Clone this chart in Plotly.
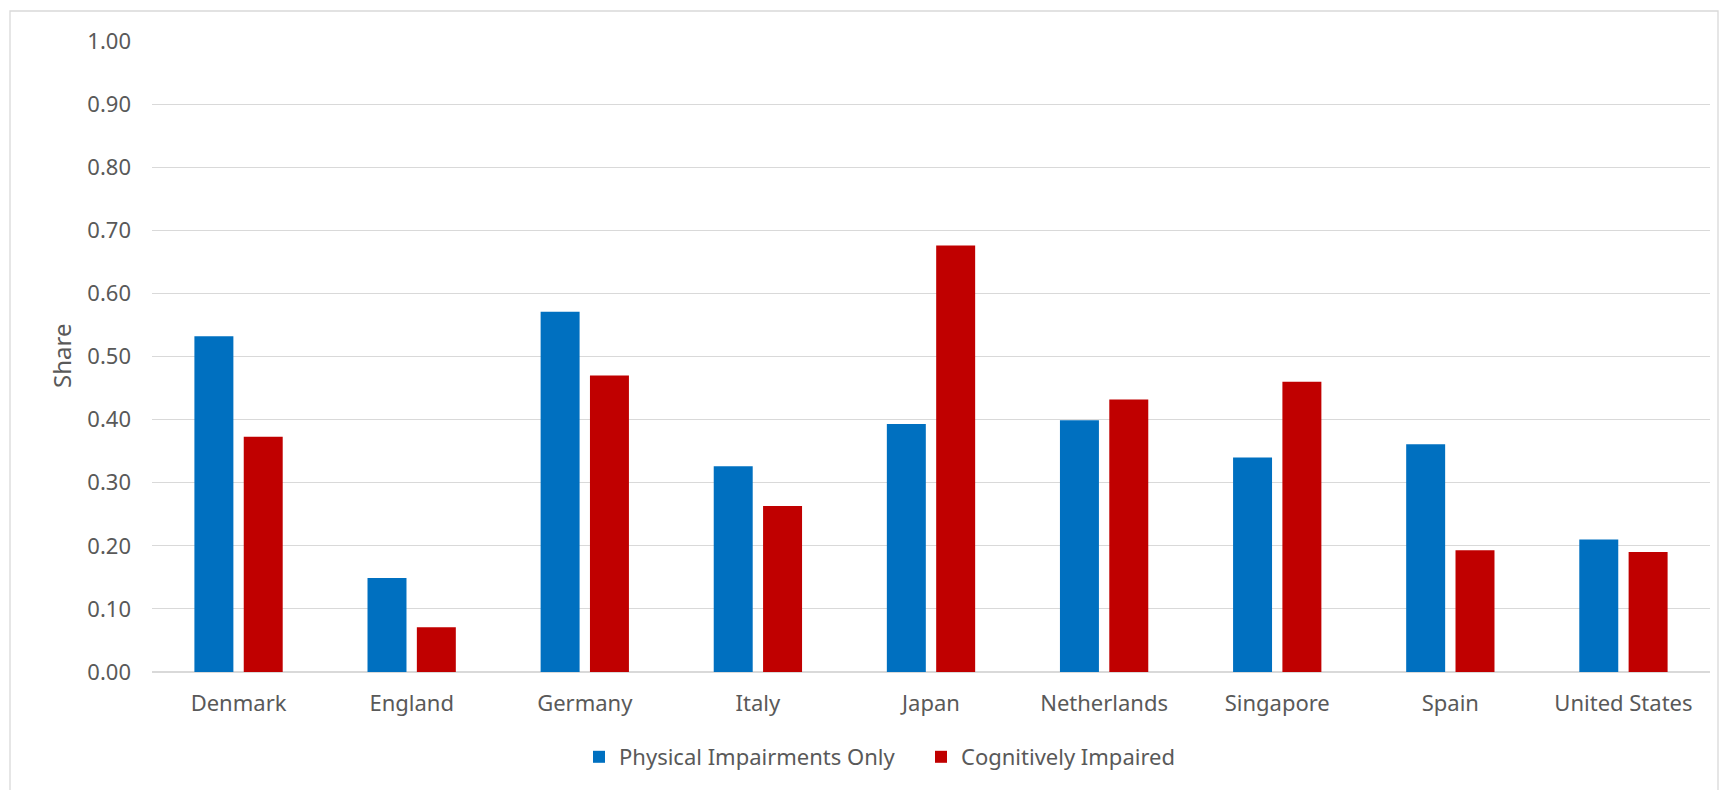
import plotly.graph_objects as go

# Share of people by impairment type, per country
countries = ["Denmark", "England", "Germany", "Italy", "Japan",
             "Netherlands", "Singapore", "Spain", "United States"]
physical_only = [0.532, 0.149, 0.571, 0.326, 0.393, 0.399, 0.340, 0.361, 0.210]
cognitive = [0.373, 0.071, 0.470, 0.263, 0.676, 0.432, 0.460, 0.193, 0.190]
y_ticks = [0.0, 0.1, 0.2, 0.3, 0.4, 0.5, 0.6, 0.7, 0.8, 0.9, 1.0]

BLUE = "#0070C0"
RED = "#C00000"
GRID = "#D9D9D9"
TEXT = "#595959"
FONT = "Noto Sans, Open Sans, sans-serif"

W, H = 1720, 790
L, R, T, B = 152, 10, 41, 118  # plot-area margins in px

fig = go.Figure()
fig.add_trace(go.Bar(x=countries, y=physical_only, name="Physical Impairments Only",
                     marker=dict(color=BLUE, line=dict(width=0))))
fig.add_trace(go.Bar(x=countries, y=cognitive, name="Cognitively Impaired",
                     marker=dict(color=RED, line=dict(width=0))))

pw = W - L - R
ph = H - T - B


def px_x(x):
    return (x - L) / pw


def px_y(y):
    return (H - B - y) / ph


fig.update_layout(
    width=W, height=H,
    margin=dict(l=L, r=R, t=T, b=B, pad=0),
    paper_bgcolor="white", plot_bgcolor="white",
    font=dict(family=FONT, size=22, color=TEXT),
    barmode="group", bargap=0.43, bargroupgap=0.21,
    showlegend=True,
    legend=dict(orientation="h", x=px_x(579), xanchor="left",
                y=px_y(757), yanchor="middle",
                font=dict(family=FONT, size=22, color=TEXT),
                itemwidth=30, entrywidth=297, entrywidthmode="pixels",
                tracegroupgap=0, bgcolor="rgba(0,0,0,0)"),
    xaxis=dict(showgrid=False, zeroline=False, showline=False, ticks="",
               tickfont=dict(family=FONT, size=22, color=TEXT),
               ticklabelstandoff=16),
    yaxis=dict(range=[0, 1], tickvals=y_ticks, tickformat=".2f",
               showgrid=True, gridcolor=GRID, gridwidth=1.3,
               zeroline=True, zerolinecolor=GRID, zerolinewidth=1.6,
               showline=False, ticks="",
               tickfont=dict(family=FONT, size=22, color=TEXT),
               ticklabelstandoff=20),
    annotations=[dict(text="Share", textangle=-90, xref="paper", yref="paper",
                      x=px_x(61), y=px_y(356), xanchor="center", yanchor="middle",
                      showarrow=False, font=dict(family=FONT, size=24, color=TEXT))],
    shapes=[dict(type="rect", xref="paper", yref="paper",
                 x0=px_x(10), x1=px_x(1718), y0=px_y(800), y1=px_y(11),
                 line=dict(color=GRID, width=1.3), fillcolor="rgba(0,0,0,0)",
                 layer="below")],
)

fig.write_html("out.html")
